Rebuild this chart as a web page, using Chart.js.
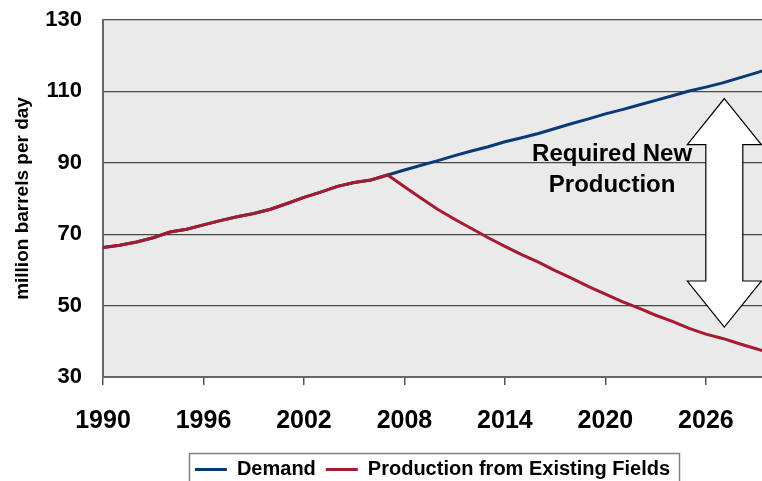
<!DOCTYPE html>
<html><head><meta charset="utf-8">
<script src="https://cdn.jsdelivr.net/npm/chart.js@4/dist/chart.umd.min.js"></script>
<style>html,body{margin:0;padding:0;background:#fff;overflow:hidden}#wrap{width:762px;height:481px;position:relative}</style>
</head><body><div id="wrap"><canvas id="c"></canvas></div>
<script>
const years = [1990,1991,1992,1993,1994,1995,1996,1997,1998,1999,2000,2001,2002,2003,2004,2005,2006,2007,2008,2009,2010,2011,2012,2013,2014,2015,2016,2017,2018,2019,2020,2021,2022,2023,2024,2025,2026,2027,2028,2029,2030];
const demand = [66.3,66.9,67.8,69.0,70.6,71.4,72.6,73.8,74.9,75.8,77.0,78.6,80.3,81.8,83.4,84.5,85.2,86.6,88.0,89.3,90.6,92.0,93.3,94.5,95.9,97.0,98.2,99.6,101.0,102.3,103.7,104.9,106.2,107.5,108.8,110.1,111.2,112.4,113.8,115.2,116.7];
const production = [66.3,66.9,67.8,69.0,70.6,71.4,72.6,73.8,74.9,75.8,77.0,78.6,80.3,81.8,83.4,84.5,85.2,86.6,83.3,80.1,76.9,74.2,71.6,69.0,66.6,64.3,62.2,59.8,57.6,55.3,53.2,51.1,49.3,47.3,45.6,43.6,42.0,40.8,39.3,37.9,36.5];
const seriesNames = ['Demand','Production from Existing Fields'];
const xTicks = [1990,1996,2002,2008,2014,2020,2026];
const yTicks = [30,50,70,90,110,130];
const yTitle = 'million barrels per day';
const noteLines = ['Required New','Production'];
const noteAnchor = {year: 2020.4, value: 88.0};
const arrowSpan = {year: 2027.1, from: 44.0, to: 108.0};

const FONT = '"Liberation Sans", Arial, sans-serif';

const decor = {
  id: 'decor',
  beforeDraw(chart) {
    const {ctx, chartArea: a} = chart;
    ctx.save();
    ctx.fillStyle = '#EAEAEA';
    ctx.fillRect(a.left, a.top, a.right - a.left, a.bottom - a.top);
    ctx.restore();
  },
  afterDatasetsDraw(chart) {
    const {ctx} = chart;
    const xs = chart.scales.x, ys = chart.scales.y;
    const x = xs.getPixelForValue(arrowSpan.year);
    const yT = ys.getPixelForValue(arrowSpan.to);
    const yB = ys.getPixelForValue(arrowSpan.from);
    const hw = 37, sw = 18.5, hl = 46;
    ctx.save();
    ctx.beginPath();
    ctx.moveTo(x, yT);
    ctx.lineTo(x + hw, yT + hl); ctx.lineTo(x + sw, yT + hl);
    ctx.lineTo(x + sw, yB - hl); ctx.lineTo(x + hw, yB - hl);
    ctx.lineTo(x, yB);
    ctx.lineTo(x - hw, yB - hl); ctx.lineTo(x - sw, yB - hl);
    ctx.lineTo(x - sw, yT + hl); ctx.lineTo(x - hw, yT + hl);
    ctx.closePath();
    ctx.fillStyle = '#FFFFFF';
    ctx.fill();
    ctx.lineWidth = 1.2;
    ctx.strokeStyle = '#000000';
    ctx.stroke();
    const tx = xs.getPixelForValue(noteAnchor.year);
    const ty = ys.getPixelForValue(noteAnchor.value);
    ctx.fillStyle = '#000000';
    ctx.font = 'bold 24px ' + FONT;
    ctx.textAlign = 'center';
    ctx.textBaseline = 'middle';
    ctx.fillText(noteLines[0], tx, ty - 15.5);
    ctx.fillText(noteLines[1], tx, ty + 15.5);
    ctx.restore();
  },
  afterDraw(chart) {
    const hb = chart.legend && chart.legend.legendHitBoxes;
    if (!hb || !hb.length) return;
    const {ctx} = chart;
    const l = Math.min(...hb.map(h => h.left)) - 6;
    const r = Math.max(...hb.map(h => h.left + h.width)) + 9;
    const t = hb[0].top - 6.5;
    ctx.save();
    ctx.strokeStyle = '#808080';
    ctx.lineWidth = 1.5;
    ctx.strokeRect(Math.round(l) + 0.5, Math.round(t) + 0.5, Math.round(r - l), 60);
    ctx.restore();
  }
};

new Chart(document.getElementById('c'), {
  type: 'line',
  data: {
    datasets: [
      {label: seriesNames[0], data: years.map((y, i) => ({x: y, y: demand[i]})), borderColor: '#0A3A75', backgroundColor: '#0A3A75', borderWidth: 3, pointRadius: 0, tension: 0, order: 2},
      {label: seriesNames[1], data: years.map((y, i) => ({x: y, y: production[i]})), borderColor: '#A51B30', backgroundColor: '#A51B30', borderWidth: 3, pointRadius: 0, tension: 0, order: 1}
    ]
  },
  options: {
    responsive: true,
    maintainAspectRatio: false,
    animation: false,
    layout: {padding: {left: 0, top: 20, right: 0, bottom: -8.5}},
    plugins: {
      tooltip: {enabled: false},
      legend: {
        position: 'bottom',
        fullSize: false,
        labels: {
          sort: (a, b) => a.datasetIndex - b.datasetIndex,
          usePointStyle: true,
          pointStyle: 'line',
          pointStyleWidth: 32,
          padding: 10,
          color: '#000',
          font: {family: FONT, size: 20, weight: 'bold'}
        }
      }
    },
    scales: {
      x: {
        type: 'linear',
        min: 1990,
        max: 2029.35,
        afterBuildTicks: s => { s.ticks = xTicks.map(v => ({value: v})); },
        afterFit: s => { s.height = 72.5; },
        grid: {drawOnChartArea: false, drawTicks: true, tickLength: 8, color: '#555', lineWidth: 1.5},
        border: {color: '#666', width: 2},
        ticks: {callback: v => String(v), color: '#000', font: {family: FONT, size: 25, weight: 'bold'}, padding: 21, maxRotation: 0, autoSkip: false}
      },
      y: {
        min: 30,
        max: 130,
        afterBuildTicks: s => { s.ticks = yTicks.map(v => ({value: v})); },
        afterFit: s => { s.width = 103; },
        grid: {drawTicks: true, tickLength: 21, tickColor: 'rgba(0,0,0,0)', color: '#4a4a4a', lineWidth: 1.3},
        border: {color: '#666', width: 2},
        ticks: {color: '#000', font: {family: FONT, size: 22, weight: 'bold'}, padding: 0},
        title: {display: true, text: yTitle, color: '#000', font: {family: FONT, size: 19, weight: 'bold'}, padding: {top: 11, bottom: 0}}
      }
    }
  },
  plugins: [decor]
});
</script></body></html>
